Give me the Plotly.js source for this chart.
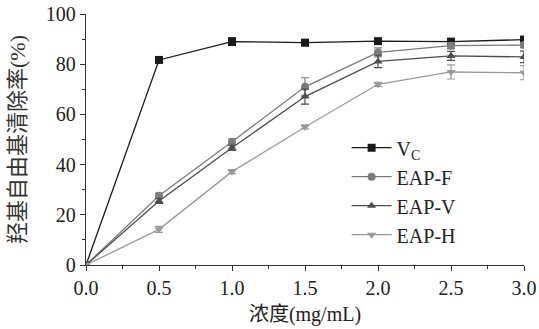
<!DOCTYPE html>
<html><head><meta charset="utf-8">
<script src="https://cdn.plot.ly/plotly-3.0.1.min.js"></script>
<style>body{margin:0;background:#fff}#c{width:539px;height:329px}</style>
</head><body><div id="c"></div>
<script>
const conc = [0, 0.5, 1.0, 1.5, 2.0, 2.5, 3.0];
const vc    = [0, 81.7, 89.0, 88.6, 89.2, 89.0, 89.8];
const vcErr = [0, 0.8, 1.5, 1.2, 0.8, 1.2, 1.0];
const eapF    = [0, 27.6, 49.1, 71.0, 84.7, 87.4, 87.6];
const eapFErr = [0, 1.0, 1.2, 3.6, 1.8, 1.2, 1.0];
const eapV    = [0, 25.5, 46.7, 67.1, 81.1, 83.3, 82.9];
const eapVErr = [0, 1.0, 1.0, 3.0, 2.5, 1.8, 2.3];
const eapH    = [0, 14.2, 37.2, 55.0, 72.0, 76.9, 76.6];
const eapHErr = [0, 1.2, 0.8, 0.8, 0.8, 2.8, 2.8];
const names = ['V<sub>C</sub>', 'EAP-F', 'EAP-V', 'EAP-H'];
const colors = ['#1a1a1a', '#7c7c7c', '#4d4d4d', '#9a9a9a'];
const symbols = ['square', 'circle', 'triangle-up', 'triangle-down'];
const ys = [vc, eapF, eapV, eapH];
const errs = [vcErr, eapFErr, eapVErr, eapHErr];
const traces = ys.map((y, i) => ({
  x: conc, y: y, name: names[i], type: 'scatter', mode: 'lines+markers',
  line: {color: colors[i], width: 1.3},
  marker: {symbol: symbols[i], size: 8, color: colors[i]},
  error_y: {type: 'data', array: errs[i], visible: true, color: colors[i], thickness: 1.2, width: 4}
}));
const serif = '"Liberation Serif", "Times New Roman", serif';
const cjk = '"Liberation Serif", "Noto Sans CJK SC", serif';
const font = {family: serif, size: 20, color: '#222'};
const layout = {
  width: 539, height: 329,
  margin: {l: 86, r: 15, t: 14, b: 64},
  paper_bgcolor: '#fff', plot_bgcolor: '#fff',
  font: font,
  showlegend: true,
  legend: {x: 0.595, y: 0.545, xanchor: 'left', yanchor: 'top', bgcolor: 'rgba(0,0,0,0)',
           font: {family: serif, size: 20, color: '#222'}, tracegroupgap: 0, itemwidth: 40},
  xaxis: {
    range: [0, 3.0], tickvals: [0, 0.5, 1.0, 1.5, 2.0, 2.5, 3.0],
    ticktext: ['0.0', '0.5', '1.0', '1.5', '2.0', '2.5', '3.0'],
    tickfont: {family: serif, size: 20, color: '#222'},
    showgrid: false, zeroline: false, showline: true, linecolor: '#333', linewidth: 1.3,
    ticks: 'outside', ticklen: 5, tickcolor: '#333',
    minor: {dtick: 0.25, ticks: 'outside', ticklen: 3, tickcolor: '#333', showgrid: false},
    title: {text: '浓度(mg/mL)', font: {family: cjk, size: 20, color: '#222'}, standoff: 8}
  },
  yaxis: {
    range: [0, 100], tickvals: [0, 20, 40, 60, 80, 100],
    tickfont: {family: serif, size: 20, color: '#222'},
    showgrid: false, zeroline: false, showline: true, linecolor: '#333', linewidth: 1.3,
    ticks: 'outside', ticklen: 5, tickcolor: '#333',
    minor: {dtick: 10, ticks: 'outside', ticklen: 3, tickcolor: '#333', showgrid: false},
    title: {text: '羟基自由基清除率(%)', font: {family: cjk, size: 22, color: '#333'}, standoff: 14}
  }
};
Plotly.newPlot('c', traces, layout, {staticPlot: true});
</script></body></html>
